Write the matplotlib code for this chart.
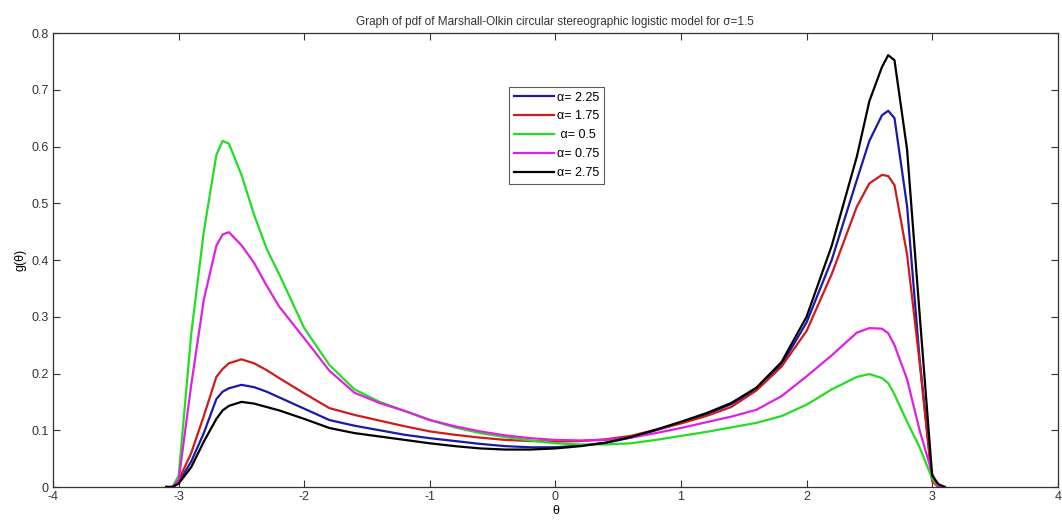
import matplotlib
matplotlib.use("Agg")
import matplotlib.pyplot as plt
import numpy as np

plt.rcParams["font.family"] = ["Liberation Sans", "DejaVu Sans"]

theta = [-3.10, -3.05, -3.00, -2.90, -2.80, -2.70, -2.65, -2.60, -2.50, -2.40, -2.30,
         -2.20, -2.00, -1.80, -1.60, -1.40, -1.20, -1.00, -0.80, -0.60, -0.40, -0.20,
         0.00, 0.20, 0.40, 0.60, 0.80, 1.00, 1.20, 1.40, 1.60, 1.80, 2.00, 2.20, 2.40,
         2.50, 2.60, 2.65, 2.70, 2.80, 2.90, 3.00, 3.05, 3.10]

g_225 = [0, 0, 0.008, 0.045, 0.095, 0.155, 0.168, 0.174, 0.180, 0.176, 0.168,
         0.158, 0.138, 0.118, 0.108, 0.100, 0.092, 0.086, 0.081, 0.076, 0.072, 0.070,
         0.070, 0.073, 0.078, 0.087, 0.100, 0.113, 0.128, 0.146, 0.172, 0.215, 0.290, 0.400, 0.541,
         0.610, 0.655, 0.663, 0.650, 0.495, 0.225, 0.012, 0, 0]
g_175 = [0, 0, 0.012, 0.060, 0.125, 0.194, 0.208, 0.218, 0.225, 0.218, 0.206,
         0.192, 0.165, 0.139, 0.127, 0.117, 0.107, 0.098, 0.092, 0.087, 0.083, 0.081,
         0.080, 0.081, 0.084, 0.090, 0.101, 0.112, 0.125, 0.141, 0.170, 0.212, 0.275, 0.375, 0.494,
         0.535, 0.550, 0.548, 0.532, 0.410, 0.220, 0.010, 0, 0]
g_05 = [0, 0, 0.020, 0.270, 0.450, 0.585, 0.610, 0.605, 0.550, 0.480, 0.420,
        0.375, 0.280, 0.215, 0.172, 0.150, 0.134, 0.118, 0.105, 0.095, 0.088, 0.082,
        0.077, 0.075, 0.075, 0.077, 0.083, 0.090, 0.097, 0.105, 0.113, 0.125, 0.145, 0.172, 0.194,
        0.199, 0.192, 0.183, 0.163, 0.115, 0.070, 0.015, 0, 0]
g_075 = [0, 0, 0.012, 0.180, 0.330, 0.425, 0.445, 0.449, 0.426, 0.395, 0.355,
         0.318, 0.262, 0.205, 0.166, 0.148, 0.134, 0.118, 0.107, 0.098, 0.091, 0.086,
         0.083, 0.082, 0.083, 0.087, 0.095, 0.104, 0.114, 0.124, 0.136, 0.160, 0.195, 0.232, 0.272,
         0.280, 0.279, 0.271, 0.250, 0.190, 0.100, 0.024, 0, 0]
g_275 = [0, 0, 0.006, 0.035, 0.080, 0.120, 0.135, 0.143, 0.150, 0.147, 0.141,
         0.135, 0.120, 0.104, 0.095, 0.089, 0.083, 0.077, 0.072, 0.068, 0.066, 0.066,
         0.068, 0.072, 0.078, 0.088, 0.101, 0.115, 0.130, 0.148, 0.175, 0.220, 0.300, 0.425, 0.582,
         0.680, 0.740, 0.761, 0.752, 0.595, 0.305, 0.020, 0.005, 0]

series = [
    (g_225, "#1a1aa8", "α= 2.25"),
    (g_175, "#cc1c1c", "α= 1.75"),
    (g_05, "#22dd22", " α= 0.5"),
    (g_075, "#e020e0", "α= 0.75"),
    (g_275, "#000000", "α= 2.75"),
]

fig = plt.figure(figsize=(10.62, 5.24), dpi=100)
ax = fig.add_axes([0.05, 0.0706, 0.946, 0.8664])

for y, color, lab in series:
    ax.plot(theta, y, color=color, linewidth=1.6, label=lab)

ax.set_xlim(-4, 4)
ax.set_ylim(0, 0.8)
ax.set_xticks(np.arange(-4, 5, 1))
ax.set_yticks(np.arange(0, 0.81, 0.1))
ax.set_xticklabels([str(v) for v in range(-4, 5)])
ax.set_yticklabels(["0", "0.1", "0.2", "0.3", "0.4", "0.5", "0.6", "0.7", "0.8"])
ax.tick_params(direction="in", top=True, right=True, length=5, width=0.8,
               labelsize=9, colors="#333333", pad=3)
for s in ax.spines.values():
    s.set_color("#333333")
    s.set_linewidth(0.9)

ax.set_title("Graph of pdf of Marshall-Olkin circular stereographic logistic model for σ=1.5",
             fontsize=8.5, color="#333333", pad=6)
ax.set_xlabel("θ", fontsize=9, labelpad=1)
ax.set_ylabel("g(θ)", fontsize=9, labelpad=4)

leg = ax.legend(loc="upper left", bbox_to_anchor=(0.454, 0.882), fontsize=9,
                frameon=True, fancybox=False, handlelength=3.2, borderpad=0.4,
                labelspacing=0.55, handletextpad=0.2, borderaxespad=0)
leg.get_frame().set_edgecolor("#333333")
leg.get_frame().set_linewidth(0.8)

fig.savefig("out.png", dpi=100)
